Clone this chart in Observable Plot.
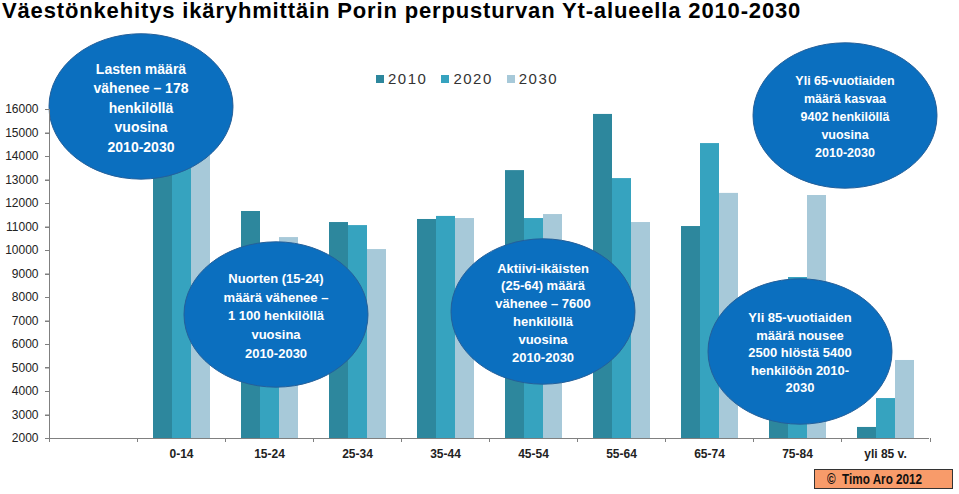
<!DOCTYPE html>
<html>
<head>
<meta charset="utf-8">
<script src="https://cdn.jsdelivr.net/npm/d3@7"></script>
<script src="https://cdn.jsdelivr.net/npm/@observablehq/plot@0.6"></script>
<style>
  html, body { margin: 0; padding: 0; background: #fff; }
  body { width: 959px; height: 494px; position: relative; overflow: hidden; font-family: "Liberation Sans", Arial, sans-serif; }
  #title { height: 28px; font-size: 22px; font-weight: bold; color: #000; padding-left: 2px; line-height: 22px; white-space: nowrap; letter-spacing: 0.85px; }
  #legend { position: absolute; left: 376px; top: 70px; display: flex; align-items: center; font-size: 15px; letter-spacing: 1.5px; color: #333; }
  #legend .item { display: flex; align-items: center; margin-right: 14px; }
  #legend .sw { width: 8px; height: 8px; margin-right: 4px; }
  #footer { position: absolute; left: 814px; top: 469px; width: 139px; height: 20px; box-sizing: border-box; background: #f89b6a; border: 1px solid #333; font-weight: bold; font-size: 15px; line-height: 18px; padding-left: 12px; color: #111; white-space: nowrap; }
  #footer span { display: inline-block; transform: scaleX(0.78); transform-origin: left center; }
  #chart svg g[aria-label^="fx-axis"] text { font-weight: bold; }
</style>
</head>
<body>
<div id="title">Väestönkehitys ikäryhmittäin Porin perpusturvan Yt-alueella 2010-2030</div>
<div id="chart"></div>
<div id="legend"></div>
<div id="footer"><span>©&nbsp; Timo Aro 2012</span></div>
<script>
// ---- data ----
const ages = ["0-14", "15-24", "25-34", "35-44", "45-54", "55-64", "65-74", "75-84", "yli 85 v."];
const years = ["2010", "2020", "2030"];
const v2010 = [14300, 11660, 11190, 11320, 13400, 15790, 11020, 7250, 2470];
const v2020 = [14400, 10300, 11060, 11450, 11360, 13060, 14550, 8850, 3700];
const v2030 = [14122, 10550, 10040, 11360, 11530, 11190, 12430, 12340, 5320];
const colors = ["#2d879d", "#36a3bf", "#a7c9d9"];
const yBase = 2000;
const yTop = 16000;
const yTicks = d3.range(yBase, yTop + 1, 1000);

// annotation bubbles
const noteTexts = [
  "Lasten määrä\nvähenee – 178\nhenkilöllä\nvuosina\n2010-2030",
  "Nuorten (15-24)\nmäärä vähenee –\n1 100 henkilöllä\nvuosina\n2010-2030",
  "Aktiivi-ikäisten\n(25-64) määrä\nvähenee – 7600\nhenkilöllä\nvuosina\n2010-2030",
  "Yli 65-vuotiaiden\nmäärä kasvaa\n9402 henkilöllä\nvuosina\n2010-2030",
  "Yli 85-vuotiaiden\nmäärä nousee\n2500 hlöstä 5400\nhenkilöön 2010-\n2030"
];
const noteAge = ["0-14", "15-24", "45-54", "75-84", "75-84"];
const noteY = [16130, 7277, 7404, 15745, 5702];
const noteDx = [-41, 6, 9, 47, 2];
const noteFont = [14, 13, 13, 12.5, 13];
const noteLine = [1.39, 1.43, 1.37, 1.44, 1.35];

// ---- tables ----
const series = [v2010, v2020, v2030];
const data = [];
ages.forEach((a, i) => years.forEach((y, j) => data.push({age: a, year: y, value: series[j][i]})));
const notes = noteTexts.map((t, i) => ({text: t, age: noteAge[i], y: noteY[i], dx: noteDx[i], fs: noteFont[i], lh: noteLine[i]}));
const fxDomain = ["", ...ages];
const baseRows = fxDomain.map(a => ({age: a, y: yBase}));

const ellipse = {
  draw(context, size) {
    const r = Math.sqrt(size / Math.PI);
    const rx = r, ry = r * 0.79, k = 0.5523;
    context.moveTo(rx, 0);
    context.bezierCurveTo(rx, ry * k, rx * k, ry, 0, ry);
    context.bezierCurveTo(-rx * k, ry, -rx, ry * k, -rx, 0);
    context.bezierCurveTo(-rx, -ry * k, -rx * k, -ry, 0, -ry);
    context.bezierCurveTo(rx * k, -ry, rx, -ry * k, rx, 0);
    context.closePath();
  }
};

const noteMarks = [];
notes.forEach(n => {
  noteMarks.push(Plot.dot([n], {fx: "age", x: () => "2020", y: "y", dx: n.dx, r: 92, symbol: ellipse, fill: "#0b6fbf", stroke: "#25609a", strokeWidth: 1}));
});
notes.forEach(n => {
  noteMarks.push(Plot.text([n], {fx: "age", x: () => "2020", y: "y", dx: n.dx, text: "text", fill: "white", fontWeight: "bold", fontSize: n.fs, lineHeight: n.lh}));
});

const axisColor = "#808080";
const chart = Plot.plot({
  width: 959,
  height: 466,
  marginLeft: 48,
  marginRight: 29,
  marginTop: 81,
  marginBottom: 56,
  style: {fontFamily: "Liberation Sans, Arial, sans-serif", fontSize: "12px", color: "#222", background: "white"},
  fx: {domain: fxDomain, paddingInner: 0, paddingOuter: 0, axis: "bottom", label: null, tickSize: 0, tickPadding: 11},
  x: {domain: years, paddingInner: 0, paddingOuter: 0.8, axis: null},
  y: {domain: [yBase, yTop]},
  color: {domain: years, range: colors},
  marks: [
    Plot.barY(data, {fx: "age", x: "year", y1: () => yBase, y2: "value", fill: "year", inset: 0}),
    Plot.ruleY(baseRows, {fx: "age", y: "y", stroke: axisColor}),
    Plot.axisY({ticks: yTicks, tickFormat: "d", tickSize: 4, tickPadding: 7, stroke: axisColor, label: null}),
    ...noteMarks
  ]
});

// axis line and ticks drawn from Plot's own scales
const sy = chart.scale("y");
const sfx = chart.scale("fx");
const left = Math.round(sfx.apply(fxDomain[0]));
const bottom = sy.apply(yBase);
const g = d3.select(chart).append("g").attr("stroke", axisColor).attr("stroke-width", 1).attr("shape-rendering", "crispEdges");
g.append("line").attr("x1", left + 0.5).attr("x2", left + 0.5).attr("y1", sy.apply(yTop)).attr("y2", bottom);
yTicks.forEach(t => g.append("line").attr("x1", left - 4).attr("x2", left).attr("y1", Math.round(sy.apply(t)) + 0.5).attr("y2", Math.round(sy.apply(t)) + 0.5));
const bounds = fxDomain.map(c => sfx.apply(c)).concat([sfx.range[1]]);
bounds.forEach(b => g.append("line").attr("x1", Math.round(b) + 0.5).attr("x2", Math.round(b) + 0.5).attr("y1", bottom).attr("y2", bottom + 4));

document.getElementById("chart").appendChild(chart);

const legendEl = document.getElementById("legend");
years.forEach((y, i) => {
  const item = document.createElement("div");
  item.className = "item";
  const sw = document.createElement("div");
  sw.className = "sw";
  sw.style.background = colors[i];
  const t = document.createElement("span");
  t.textContent = y;
  item.appendChild(sw);
  item.appendChild(t);
  legendEl.appendChild(item);
});
</script>
</body>
</html>
